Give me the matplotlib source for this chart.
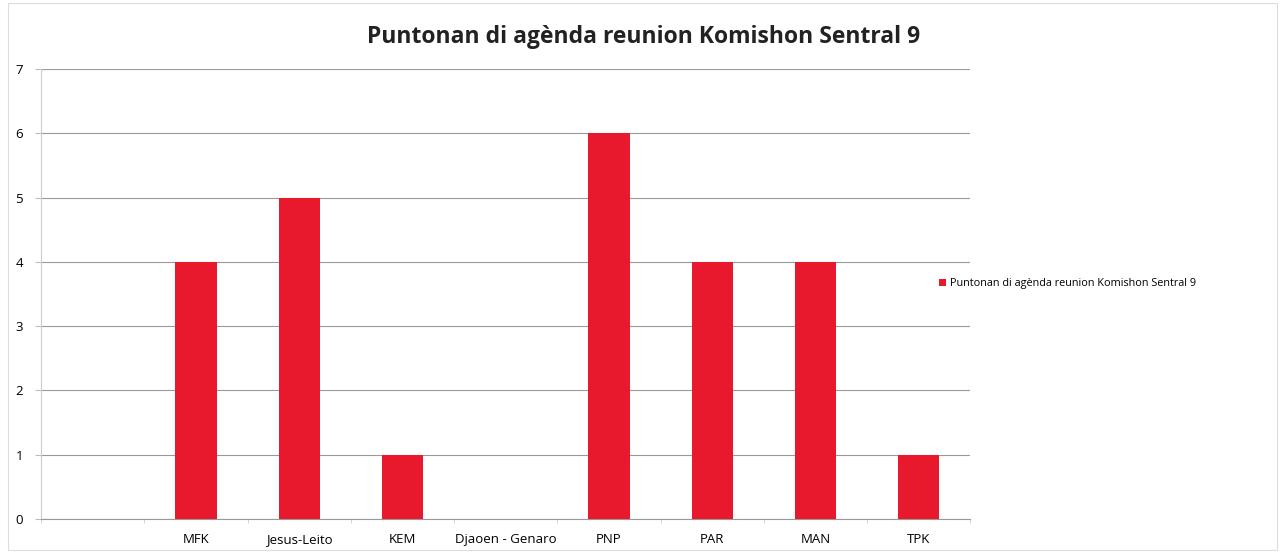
import numpy as np
import matplotlib.pyplot as plt
from matplotlib.patches import Rectangle

categories = ["", "MFK", "Jesus-Leito", "KEM", "Djaoen - Genaro", "PNP", "PAR", "MAN", "TPK"]
values = [0, 4, 5, 1, 0, 6, 4, 4, 1]
series_name = "Puntonan di agènda reunion Komishon Sentral 9"

plt.rcParams['font.family'] = ['Open Sans', 'DejaVu Sans']

fig = plt.figure(figsize=(12.82, 5.56), dpi=100)
ax = fig.add_axes([0.032, 0.0665, 0.725, 0.8095])

x = np.arange(len(categories))
bars = ax.bar(x, values, width=0.4, color="#E8192C", label=series_name, zorder=3)

ax.set_xlim(-0.5, len(categories) - 0.5)
ax.set_ylim(0, 7)
ax.set_yticks(range(0, 8))
ax.set_xticks(x)
ax.set_xticklabels(categories, fontsize=9.5)
ax.tick_params(axis="x", length=0, pad=10)
ax.set_xticks(np.arange(-0.5, len(categories), 1), minor=True)
ax.tick_params(axis="x", which="minor", length=3, color="#cccccc")
ax.tick_params(axis="y", labelsize=9.5, length=4, color="#bbbbbb", pad=9)
ax.grid(axis="y", color="#999999", linewidth=0.8, zorder=0)
for side in ["top", "right"]:
    ax.spines[side].set_visible(False)
ax.spines["left"].set_color("#cccccc")
ax.spines["bottom"].set_color("#999999")

fig.suptitle("Puntonan di agènda reunion Komishon Sentral 9", x=0.502, y=0.955,
             fontsize=16.5, fontweight="bold", color="#222222")

fig.legend(handles=[bars], labels=[series_name], loc="center left",
           bbox_to_anchor=(0.725, 0.49), frameon=False, fontsize=7.8,
           handlelength=0.6, handleheight=0.6, handletextpad=0.4)

fig.patches.append(Rectangle((0.006, 0.01), 0.99, 0.985, transform=fig.transFigure,
                             fill=False, edgecolor="#dddddd", linewidth=0.8))

fig.savefig("out.png", dpi=100)
